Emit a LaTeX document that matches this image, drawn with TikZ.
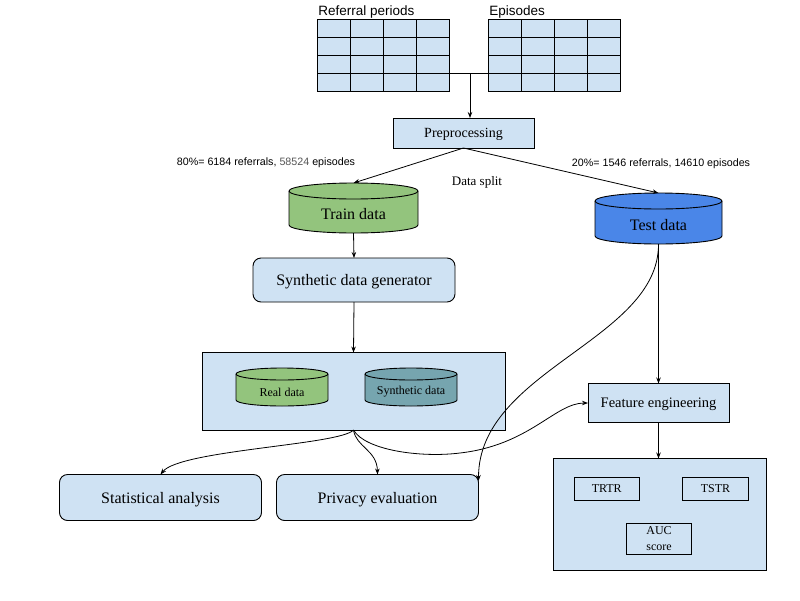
\documentclass[tikz,border=0pt]{standalone}
\usepackage{fontspec}
\setmainfont{Liberation Serif}
\newfontfamily\arialfont{Liberation Sans}
\usetikzlibrary{arrows.meta,calc}
\definecolor{lblue}{HTML}{CFE2F3}
\definecolor{tgreen}{HTML}{93C47D}
\definecolor{tblue}{HTML}{4A86E8}
\definecolor{tteal}{HTML}{76A5AF}
\definecolor{numgray}{HTML}{555555}
\newcommand\mycyl[6]{%
  \pgfmathsetmacro\cylrx{(#3-#1)/2}%
  \filldraw[fill=#6] (#1,#2+#5) -- (#1,#4-#5)
     arc[start angle=180,end angle=0,x radius=\cylrx,y radius=#5]
     -- (#3,#2+#5)
     arc[start angle=0,end angle=-180,x radius=\cylrx,y radius=#5] -- cycle;
  \draw (#1,#2+#5) arc[start angle=180,end angle=0,x radius=\cylrx,y radius=#5];
}
\begin{document}
\begin{tikzpicture}[x=1pt,y=-1pt,line width=0.9pt,
  arr/.style={-{Stealth[length=6pt,width=4.5pt]},line width=0.8pt},
  box/.style={draw,fill=lblue,inner sep=0pt,outer sep=0pt,text depth=0pt},
  rbox/.style={box,rounded corners=8pt},
  area/.style={inner sep=0pt,outer sep=0pt},
  serifL/.style={font=\fontsize{16}{19}\selectfont},
  serifM/.style={font=\fontsize{14.5}{17}\selectfont},
  serifS/.style={font=\fontsize{12}{16}\selectfont},
  serifD/.style={font=\fontsize{13}{16}\selectfont},
  sansS/.style={font=\arialfont\fontsize{10.7}{13}\selectfont},
  sansM/.style={font=\arialfont\fontsize{13.5}{16}\selectfont},
]
\useasboundingbox[fill=white] (0,0) rectangle (800,600);

% ---- input tables
\node[box,minimum width=132,minimum height=72] (rp) at (383,55) {};
\foreach \xx in {350,383,416} \draw (\xx,19) -- (\xx,91);
\foreach \yy in {37,55,73} \draw (317,\yy) -- (449,\yy);
\node[box,minimum width=132,minimum height=72] (ep) at (554.5,55) {};
\foreach \xx in {521.5,554.5,587.5} \draw (\xx,19) -- (\xx,91);
\foreach \yy in {37,55,73} \draw (488.5,\yy) -- (620.5,\yy);
\node[sansM,anchor=west,inner sep=0pt] (rpl) at (318,12) {Referral periods};
\node[sansM,anchor=west,inner sep=0pt] (epl) at (489,12) {Episodes};

% ---- preprocessing
\node[box,minimum width=141,minimum height=30,font=\fontsize{14}{17}\selectfont] (pre) at (463.5,133) {Preprocessing};
\coordinate (j) at (470,73);
\draw (rp.east |- j) -- (ep.west |- j);
\draw[arr] (j) -- (j |- pre.north);

\node[sansS] (l80) at (266,162.5) {80\%= 6184 referrals, {\color{numgray}58524} episodes};
\node[sansS] (l20) at (661,163.5) {20\%= 1546 referrals, 14610 episodes};
\node[serifD] (dsplit) at (477,182) {Data split};

% ---- train / test
\mycyl{289}{183}{418}{233}{8}{tgreen}
\node[area,minimum width=129,minimum height=50] (train) at (353.5,208) {};
\node[serifL] (traint) at (353.5,214) {Train data};
\mycyl{595}{193}{722}{244}{8}{tblue}
\node[area,minimum width=127,minimum height=51] (test) at (658.5,218.5) {};
\node[serifL] (testt) at (658.5,225) {Test data};

\draw[arr] (pre.south) -- (train.north);
\draw[arr] (pre.south) -- (test.north);

% ---- generator
\node[rbox,minimum width=202,minimum height=44,serifL] (gen) at (354,280) {Synthetic data generator};
\draw[arr] (train.south) -- (gen.north);

% ---- real/synthetic container
\node[box,minimum width=303,minimum height=77.5] (cont) at (353.5,391.25) {};
\draw[arr] (gen.south) -- (cont.north);
\mycyl{236}{368}{328}{406}{6}{tgreen}
\node[area,minimum width=92,minimum height=38] (real) at (282,387) {};
\node[serifS] (realt) at (282,392) {Real data};
\mycyl{365}{368}{457}{406}{6}{tteal}
\node[area,minimum width=92,minimum height=38] (syn) at (411,387) {};
\node[serifS] (synt) at (411,392) {Synthetic data};

% ---- feature engineering and metrics
\node[box,minimum width=141,minimum height=39,serifM] (feat) at (658.5,403) {Feature engineering};
\node[box,minimum width=213,minimum height=112] (met) at (660,514.5) {};
\node[draw,inner sep=0pt,minimum width=64.5,minimum height=23,serifS] (trtr) at (606.75,489) {TRTR};
\node[draw,inner sep=0pt,minimum width=66,minimum height=23,serifS] (tstr) at (715.5,489) {TSTR};
\node[draw,inner sep=0pt,minimum width=65,minimum height=31.5,serifS,align=center,text depth=0pt] (auc) at (659,539) {AUC\\score};

% ---- evaluation boxes
\node[rbox,minimum width=202,minimum height=46,serifL] (stat) at (160.5,497.5) {Statistical analysis};
\node[rbox,minimum width=202,minimum height=46,serifL] (priv) at (377.5,497.5) {Privacy evaluation};

% ---- connectors
\draw[arr] (test.south) -- (feat.north);
\draw[arr] (feat.south) -- (feat.south |- met.north);
\draw[arr] (test.south) .. controls (659,340) and (478.5,370) .. ($(priv.north east)+(0,6.5)$);
\draw[arr] (cont.south) .. controls (340,445) and (180,450) .. (stat.north);
\draw[arr] (cont.south) .. controls (356,447) and (377,450) .. (priv.north);
\draw[arr] (cont.south) .. controls (365,450) and (420,458) .. (460,453)
   .. controls (530,445) and (555,403) .. (feat.west);
\end{tikzpicture}
\end{document}
